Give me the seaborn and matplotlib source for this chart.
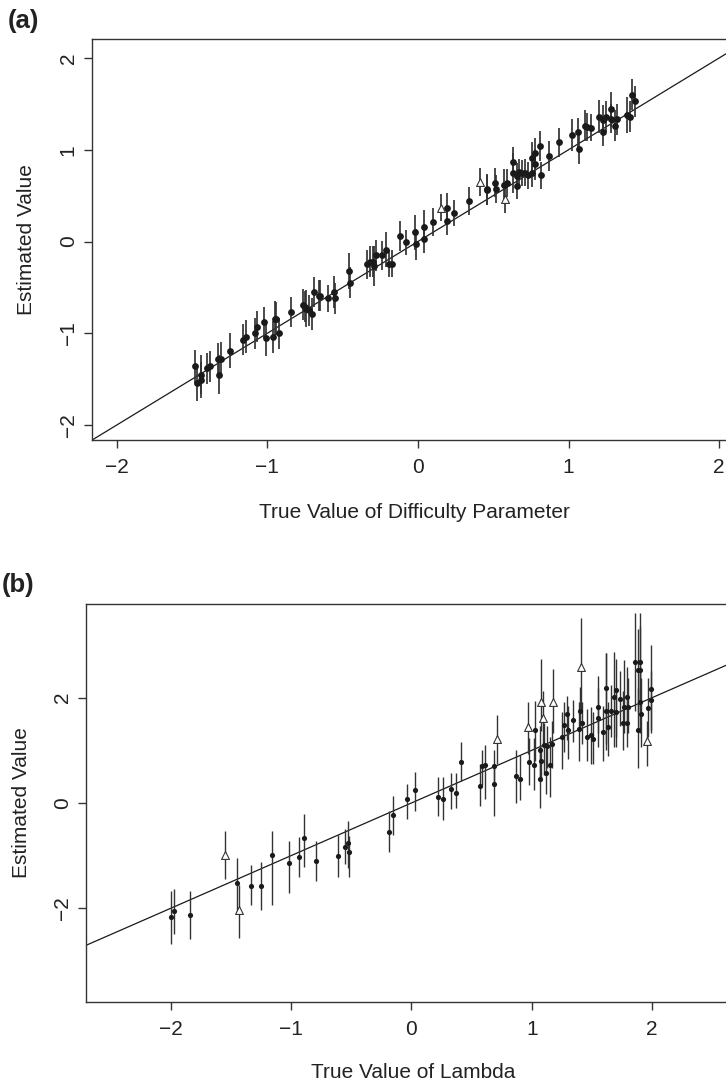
import numpy as np
import pandas as pd
import seaborn as sns
import matplotlib.pyplot as plt

# ------------------------------------------------------------
# Panel (a): difficulty parameter, true vs estimated (+/- err)
# ------------------------------------------------------------
a_true = [-1.48, -1.47, -1.44, -1.44, -1.40, -1.38, -1.33, -1.32, -1.31, -1.25,
          -1.16, -1.14, -1.08, -1.07, -1.02, -1.01, -0.96, -0.95, -0.94, -0.92,
          -0.84, -0.76, -0.75, -0.74, -0.72, -0.70, -0.69, -0.66, -0.65, -0.60,
          -0.56, -0.55, -0.46, -0.45,
          -0.34, -0.32, -0.30, -0.29, -0.28, -0.24, -0.21, -0.19, -0.17, -0.12,
          -0.08, -0.02, -0.01, 0.04, 0.04, 0.10, 0.19, 0.19, 0.24, 0.34,
          0.46, 0.46, 0.51, 0.52, 0.57, 0.59, 0.63, 0.63, 0.66, 0.66,
          0.67, 0.69, 0.71, 0.73, 0.76, 0.76, 0.78, 0.78, 0.81, 0.82,
          0.87, 0.94, 1.02, 1.06, 1.07, 1.11, 1.12, 1.15, 1.20, 1.23,
          1.23, 1.25, 1.28, 1.28, 1.31, 1.32, 1.39, 1.41, 1.42, 1.44]
a_est = [-1.36, -1.54, -1.45, -1.51, -1.38, -1.36, -1.28, -1.45, -1.28, -1.19,
         -1.07, -1.04, -1.00, -0.93, -0.88, -1.05, -1.04, -0.84, -0.84, -1.00,
         -0.77, -0.69, -0.71, -0.73, -0.75, -0.79, -0.55, -0.59, -0.59, -0.62,
         -0.55, -0.62, -0.32, -0.45,
         -0.25, -0.22, -0.22, -0.27, -0.15, -0.15, -0.09, -0.24, -0.24, 0.06,
         -0.01, 0.10, -0.03, 0.16, 0.03, 0.21, 0.36, 0.22, 0.31, 0.44,
         0.57, 0.56, 0.64, 0.57, 0.62, 0.64, 0.87, 0.75, 0.71, 0.60,
         0.76, 0.75, 0.75, 0.72, 0.91, 0.75, 0.84, 0.96, 1.04, 0.72,
         0.93, 1.08, 1.16, 1.19, 1.01, 1.26, 1.25, 1.24, 1.36, 1.32,
         1.19, 1.36, 1.44, 1.34, 1.26, 1.33, 1.38, 1.36, 1.60, 1.53]
a_err = [0.18, 0.20, 0.21, 0.20, 0.17, 0.17, 0.17, 0.21, 0.18, 0.19,
         0.17, 0.18, 0.17, 0.17, 0.17, 0.20, 0.17, 0.19, 0.18, 0.17,
         0.16, 0.17, 0.17, 0.20, 0.17, 0.17, 0.16, 0.17, 0.17, 0.15,
         0.17, 0.17, 0.20, 0.17,
         0.16, 0.17, 0.17, 0.22, 0.17, 0.16, 0.19, 0.15, 0.15, 0.16,
         0.14, 0.19, 0.17, 0.18, 0.16, 0.15, 0.17, 0.15, 0.14, 0.15,
         0.17, 0.16, 0.16, 0.15, 0.17, 0.15, 0.16, 0.22, 0.15, 0.14,
         0.14, 0.14, 0.15, 0.15, 0.17, 0.16, 0.17, 0.17, 0.16, 0.15,
         0.16, 0.16, 0.17, 0.16, 0.16, 0.17, 0.15, 0.15, 0.18, 0.17,
         0.15, 0.17, 0.19, 0.16, 0.17, 0.17, 0.20, 0.17, 0.17, 0.17]
# open triangles
a_tri_true = [0.15, 0.41, 0.58]
a_tri_est = [0.37, 0.65, 0.46]
a_tri_err = [0.15, 0.15, 0.15]

# ------------------------------------------------------------
# Panel (b): lambda, true vs estimated with interval ends
# ------------------------------------------------------------
b_true = [-2.00, -1.97, -1.84, -1.45, -1.33, -1.25, -1.16, -1.02, -0.93, -0.89,
          -0.79, -0.61, -0.55, -0.53, -0.52,
          -0.19, -0.15, -0.04, 0.03, 0.22, 0.26, 0.33, 0.37, 0.41, 0.57,
          0.59, 0.61, 0.69, 0.69, 0.87, 0.90, 0.98, 1.02, 1.03, 1.07,
          1.07, 1.08, 1.10, 1.12, 1.13, 1.15, 1.17, 1.25, 1.27, 1.29,
          1.30, 1.34, 1.40, 1.39, 1.42, 1.46, 1.49, 1.51, 1.55, 1.55,
          1.59, 1.62, 1.62, 1.63, 1.66, 1.68, 1.70, 1.70, 1.73, 1.76,
          1.77, 1.79, 1.79, 1.80, 1.86, 1.88, 1.88, 1.90, 1.90, 1.90,
          1.91, 1.97, 1.99, 1.99]
b_est = [-2.17, -2.06, -2.12, -1.52, -1.58, -1.58, -0.99, -1.14, -1.02, -0.67,
         -1.10, -1.01, -0.83, -0.76, -0.94,
         -0.55, -0.22, 0.07, 0.24, 0.11, 0.07, 0.26, 0.19, 0.78, 0.32,
         0.70, 0.72, 0.37, 0.70, 0.51, 0.46, 0.78, 0.72, 1.39, 1.01,
         0.45, 0.80, 1.10, 0.57, 1.08, 0.72, 1.12, 1.25, 1.49, 1.69,
         1.39, 1.57, 1.75, 1.41, 1.52, 1.25, 1.29, 1.22, 1.82, 1.62,
         1.34, 1.75, 2.18, 1.44, 1.75, 2.02, 1.72, 2.15, 1.97, 1.52,
         1.83, 2.02, 1.52, 1.83, 2.67, 2.52, 1.39, 2.67, 2.52, 1.92,
         1.69, 1.80, 2.17, 1.96]
b_lo = [-2.68, -2.48, -2.58, -2.09, -1.94, -2.04, -1.94, -1.71, -1.40, -1.22,
        -1.48, -1.40, -1.16, -1.24, -1.40,
        -0.94, -0.61, -0.30, -0.15, -0.25, -0.33, -0.11, -0.09, 0.41, -0.05,
        0.34, 0.08, -0.24, 0.34, 0.00, 0.05, 0.34, 0.24, 0.80, 0.41,
        -0.09, 0.41, 0.54, 0.18, 0.67, 0.11, 0.67, 0.64, 0.97, 1.20,
        0.83, 1.16, 1.39, 0.80, 1.13, 0.80, 0.74, 0.74, 1.33, 1.06,
        0.80, 1.00, 1.13, 0.90, 1.26, 1.06, 1.26, 1.06, 1.46, 1.00,
        1.33, 1.52, 1.06, 1.33, 1.75, 1.72, 0.67, 1.39, 1.85, 1.33,
        1.06, 1.26, 1.33, 1.39]
b_hi = [-1.68, -1.64, -1.68, -1.05, -1.18, -1.12, -0.53, -0.72, -0.64, -0.20,
        -0.72, -0.61, -0.50, -0.35, -0.63,
        -0.15, 0.13, 0.37, 0.59, 0.49, 0.49, 0.57, 0.57, 1.16, 0.74,
        1.00, 1.10, 0.74, 1.00, 1.00, 0.92, 1.23, 1.23, 1.93, 1.46,
        1.00, 1.06, 1.52, 1.06, 1.46, 1.26, 1.56, 1.72, 1.92, 2.04,
        1.85, 1.95, 2.21, 1.92, 1.92, 1.79, 1.82, 1.72, 2.41, 2.18,
        1.85, 2.84, 2.84, 1.92, 2.25, 2.87, 2.18, 2.74, 2.51, 2.12,
        2.71, 2.58, 2.05, 2.38, 3.61, 3.30, 2.18, 3.61, 3.36, 2.51,
        2.38, 2.38, 3.00, 2.51]
# open triangles
b_tri_true = [-1.55, -1.43, 0.71, 0.97, 1.08, 1.09, 1.18, 1.41, 1.96]
b_tri_est = [-0.99, -2.04, 1.21, 1.44, 1.92, 1.62, 1.91, 2.58, 1.18]
b_tri_lo = [-1.45, -2.56, 0.74, 0.93, 1.36, 1.13, 1.33, 1.72, 0.70]
b_tri_hi = [-0.53, -1.56, 1.68, 1.91, 2.73, 2.12, 2.54, 3.51, 1.56]

ticks = [-2, -1, 0, 1, 2]

sns.set_theme(style="ticks")
plt.rcParams['font.family'] = ['Liberation Sans', 'DejaVu Sans']
plt.rcParams['text.color'] = '#222222'
plt.rcParams['axes.labelcolor'] = '#222222'

W, H = 726, 1081
fig = plt.figure(figsize=(W / 100, H / 100), dpi=100)


def px_axes(left, top, right, bottom):
    return fig.add_axes([left / W, 1 - bottom / H, (right - left) / W, (bottom - top) / H])


def draw_panel(ax, dots, tris, xlim, ylim, yticks, xlabel, lw, dot_s, tri_s):
    ax.axline((0, 0), slope=1, color='#1a1a1a', lw=0.9, zorder=1)
    allpts = pd.concat([dots, tris])
    ax.vlines(allpts['true'], allpts['lo'], allpts['hi'], color='#333333', lw=lw, zorder=2)
    sns.scatterplot(data=dots, x='true', y='est', ax=ax, color='#1a1a1a', marker='o',
                    s=dot_s, edgecolor='#1a1a1a', linewidth=0, zorder=3, legend=False)
    sns.scatterplot(data=tris, x='true', y='est', ax=ax, color='white', marker='^',
                    s=tri_s, edgecolor='#333333', linewidth=0.8, zorder=4, legend=False)
    ax.set_xlim(xlim)
    ax.set_ylim(ylim)
    ax.set_xticks(ticks)
    ax.set_yticks(yticks)
    ax.set_xlabel(xlabel, fontsize=15, va='center')
    ax.set_ylabel('Estimated Value', fontsize=15, va='center')
    for sp in ax.spines.values():
        sp.set_linewidth(1.0)
        sp.set_color('#333333')
    ax.tick_params(axis='both', length=5.8, width=1.0, color='#333333',
                   labelsize=15, labelcolor='#222222')
    ax.tick_params(axis='x', pad=7.5)
    ax.tick_params(axis='y', pad=4.5, labelrotation=90)
    for lbl in ax.get_yticklabels():
        lbl.set_va('center')


df_a = pd.DataFrame({'true': a_true, 'est': a_est})
df_a['lo'] = df_a['est'] - np.array(a_err)
df_a['hi'] = df_a['est'] + np.array(a_err)
tri_a = pd.DataFrame({'true': a_tri_true, 'est': a_tri_est})
tri_a['lo'] = tri_a['est'] - np.array(a_tri_err)
tri_a['hi'] = tri_a['est'] + np.array(a_tri_err)

df_b = pd.DataFrame({'true': b_true, 'est': b_est, 'lo': b_lo, 'hi': b_hi})
tri_b = pd.DataFrame({'true': b_tri_true, 'est': b_tri_est, 'lo': b_tri_lo, 'hi': b_tri_hi})

ax_a = px_axes(92, 39, 736, 440)
draw_panel(ax_a, df_a, tri_a, (-2.164, 2.112), (-2.163, 2.207), ticks,
           'True Value of Difficulty Parameter', 1.25, 24, 32)
ax_a.xaxis.set_label_coords(0.5, (440 - 512) / 401)
ax_a.yaxis.set_label_coords((27 - 92) / 644, 0.5)

ax_b = px_axes(86, 604, 740, 1002)
draw_panel(ax_b, df_b, tri_b, (-2.704, 2.731), (-3.78, 3.78), [-2, 0, 2],
           'True Value of Lambda', 1.0, 14, 32)
ax_b.xaxis.set_label_coords(0.5, (1002 - 1072.5) / 398)
ax_b.yaxis.set_label_coords((22 - 86) / 654, 0.5)

fig.text(8 / W, 1 - 21 / H, '(a)', fontsize=18.5, fontweight='bold', ha='left', va='center')
fig.text(2 / W, 1 - 585 / H, '(b)', fontsize=18.5, fontweight='bold', ha='left', va='center')

fig.savefig('out.png', dpi=100)
